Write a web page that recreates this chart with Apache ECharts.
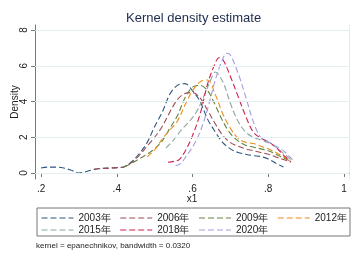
<!DOCTYPE html>
<html>
<head>
<meta charset="utf-8">
<script src="https://cdn.jsdelivr.net/npm/echarts@6/dist/echarts.min.js"></script>
<style>
  html, body { margin: 0; padding: 0; background: #fff; }
  #container { width: 359px; height: 261px; }
</style>
</head>
<body>
<div id="container"></div>
<script>
// density curves, [x, density]
const years = ['2003年', '2006年', '2009年', '2012年', '2015年', '2018年', '2020年'];
const colors = ['#2c5683', '#a04b55', '#64843f', '#ec8c1a', '#8aa69c', '#d01e4c', '#a49de0'];

const d2003 = [[0.20,0.28],[0.22,0.33],[0.24,0.33],[0.26,0.28],[0.28,0.15],[0.30,0.0],[0.32,0.08],[0.34,0.2],[0.36,0.26],[0.38,0.28],[0.40,0.3],[0.42,0.35],[0.44,0.65],[0.46,1.1],[0.48,1.7],[0.50,2.6],[0.52,3.4],[0.54,4.4],[0.56,4.9],[0.58,5.0],[0.60,4.6],[0.62,4.0],[0.64,3.0],[0.66,2.3],[0.68,1.7],[0.70,1.35],[0.72,1.15],[0.74,1.05],[0.76,0.97],[0.78,0.92],[0.80,0.78],[0.82,0.55],[0.84,0.33]];
const d2006 = [[0.34,0.22],[0.36,0.25],[0.38,0.27],[0.40,0.3],[0.42,0.35],[0.44,0.6],[0.46,1.0],[0.48,1.5],[0.50,2.0],[0.52,2.6],[0.54,3.4],[0.56,4.1],[0.58,4.45],[0.60,4.5],[0.62,4.2],[0.64,3.5],[0.66,2.75],[0.68,2.1],[0.70,1.7],[0.72,1.5],[0.74,1.35],[0.76,1.25],[0.78,1.15],[0.80,1.05],[0.82,0.9],[0.84,0.75],[0.86,0.62]];
const d2009 = [[0.42,0.35],[0.44,0.55],[0.46,0.8],[0.48,1.05],[0.50,1.35],[0.52,1.8],[0.54,2.5],[0.56,3.2],[0.58,4.2],[0.60,4.8],[0.62,4.9],[0.64,4.6],[0.66,3.8],[0.68,2.9],[0.70,2.2],[0.72,1.8],[0.74,1.55],[0.76,1.45],[0.78,1.35],[0.80,1.25],[0.82,1.05],[0.84,0.85],[0.86,0.65]];
const d2012 = [[0.48,0.9],[0.50,1.3],[0.52,1.9],[0.54,2.4],[0.56,2.9],[0.58,3.8],[0.60,4.6],[0.62,5.1],[0.64,5.2],[0.66,4.4],[0.68,3.3],[0.70,2.5],[0.72,1.95],[0.74,1.72],[0.76,1.65],[0.78,1.5],[0.80,1.35],[0.82,1.15],[0.84,0.9],[0.86,0.68]];
const d2015 = [[0.53,1.4],[0.55,1.85],[0.57,2.4],[0.59,2.85],[0.61,3.4],[0.63,4.3],[0.65,5.3],[0.66,5.65],[0.68,5.1],[0.70,3.9],[0.72,2.9],[0.74,2.3],[0.76,2.0],[0.78,1.85],[0.80,1.7],[0.82,1.45],[0.84,1.1],[0.86,0.75]];
const d2018 = [[0.535,0.6],[0.55,0.65],[0.565,0.75],[0.58,1.2],[0.60,2.1],[0.62,3.3],[0.64,5.0],[0.66,6.15],[0.67,6.45],[0.68,6.35],[0.70,5.4],[0.72,4.3],[0.74,3.2],[0.76,2.3],[0.78,1.95],[0.80,1.75],[0.82,1.45],[0.84,1.0],[0.86,0.62]];
const d2020 = [[0.555,0.4],[0.57,0.55],[0.585,1.0],[0.60,1.45],[0.62,2.3],[0.64,3.6],[0.66,5.2],[0.68,6.4],[0.69,6.7],[0.70,6.6],[0.72,5.6],[0.74,4.3],[0.76,2.9],[0.78,2.0],[0.80,1.75],[0.82,1.5],[0.84,1.25],[0.867,0.67]];
const curves = [d2003, d2006, d2009, d2012, d2015, d2018, d2020];

const xTicks = [0.2, 0.4, 0.6, 0.8, 1];
const yTicks = [0, 2, 4, 6, 8];

const font = 'Liberation Sans';
let myChart = echarts.init(document.getElementById('container'));

const legendBase = {
    left: 37,
    itemWidth: 32,
    itemHeight: 10,
    itemGap: 9,
    itemStyle: { opacity: 0 },
    lineStyle: { width: 1 },
    textStyle: { fontSize: 10, color: '#222', fontFamily: font }
};

let option = {
    animation: false,
    textStyle: { fontFamily: font },
    title: {
        text: 'Kernel density estimate',
        left: 121,
        top: 7,
        textStyle: { fontSize: 13, fontWeight: 'normal', color: '#1e2b4d', fontFamily: font }
    },
    grid: { left: 35, top: 25, width: 314, height: 154, outerBoundsMode: 'none' },
    // two legend rows; the first one carries the frame round both
    legend: [
        Object.assign({}, legendBase, {
            data: years.slice(0, 4),
            top: 208,
            padding: [5, 3, 13, 4],
            borderColor: '#777',
            borderWidth: 1
        }),
        Object.assign({}, legendBase, {
            data: years.slice(4),
            top: 220,
            padding: [5, 3, 0, 4]
        })
    ],
    xAxis: {
        type: 'value',
        min: 0.184,
        max: 1.0132,
        name: 'x1',
        nameLocation: 'middle',
        nameGap: 15,
        nameMoveOverlap: false,
        nameTextStyle: { fontSize: 10, color: '#222' },
        axisLine: { lineStyle: { color: '#777' } },
        axisTick: { customValues: xTicks, length: 4, lineStyle: { color: '#777' } },
        axisLabel: {
            customValues: xTicks,
            fontSize: 10,
            color: '#222',
            margin: 5,
            formatter: v => (v === 1 ? '1' : String(Math.round(v * 10) / 10).replace(/^0/, ''))
        },
        splitLine: { show: false }
    },
    yAxis: [{
        type: 'value',
        min: -0.336,
        max: 8.28,
        name: 'Density',
        nameLocation: 'middle',
        nameGap: 15,
        nameMoveOverlap: false,
        nameTextStyle: { fontSize: 10, color: '#222' },
        axisLine: { show: true, lineStyle: { color: '#777' } },
        axisTick: { show: true, customValues: yTicks, length: 4, lineStyle: { color: '#777' } },
        axisLabel: {
            customValues: yTicks,
            rotate: 90,
            align: 'center',
            verticalAlign: 'bottom',
            fontSize: 10,
            color: '#222',
            margin: 6
        },
        splitLine: { show: false }
    }, {
        type: 'value',
        position: 'right',
        min: -0.336,
        max: 8.28,
        axisLine: { show: true, lineStyle: { color: '#e3ecee' } },
        axisTick: { show: false },
        axisLabel: { show: false },
        splitLine: { show: false }
    }],
    series: []
};

// light grid lines at the y ticks
option.series.push({
    type: 'line',
    data: [],
    silent: true,
    markLine: {
        symbol: 'none',
        silent: true,
        label: { show: false },
        lineStyle: { color: '#e3eef0', type: 'solid', width: 1 },
        data: yTicks.map(v => ({ yAxis: v }))
    }
});

curves.forEach((d, i) => {
    option.series.push({
        name: years[i],
        type: 'line',
        data: d,
        smooth: 0.35,
        symbol: 'none',
        color: colors[i],
        lineStyle: { width: 1.1, type: [6, 3], color: colors[i] }
    });
});

option.graphic = [{
    type: 'text',
    left: 36,
    top: 242,
    style: { text: 'kernel = epanechnikov, bandwidth = 0.0320', fontSize: 8, fill: '#222', fontFamily: font }
}];

myChart.setOption(option);
</script>
</body>
</html>
